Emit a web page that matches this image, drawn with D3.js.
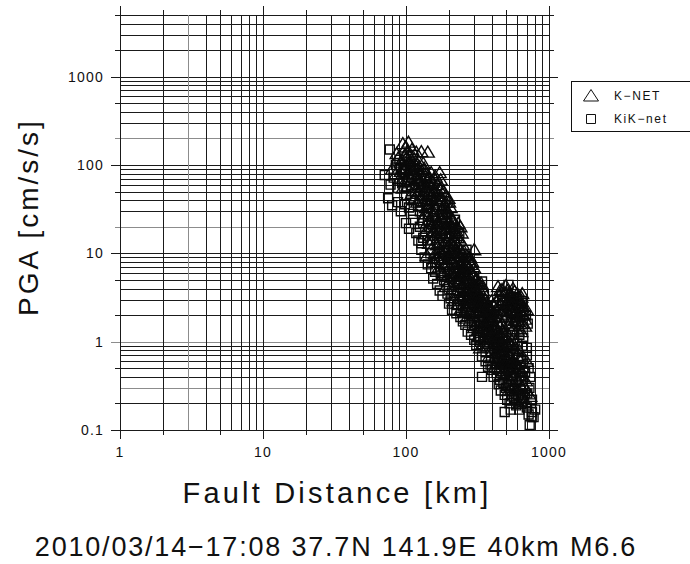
<!DOCTYPE html>
<html>
<head>
<meta charset="utf-8">
<script src="https://cdn.jsdelivr.net/npm/d3@7"></script>
<style>
  html, body { margin: 0; padding: 0; background: #fff; }
  svg { display: block; }
  text { font-family: "Liberation Sans", Arial, Helvetica, sans-serif; fill: #111; }
</style>
</head>
<body>
<svg id="chart" width="690" height="564"></svg>
<script>
// ---------------- data ----------------
const xDomain = [1, 1000];
const yDomain = [0.1, 5000];
const xTickLabels = ["1", "10", "100", "1000"];
const xTickValues = [1, 10, 100, 1000];
const yTickLabels = ["0.1", "1", "10", "100", "1000"];
const yTickValues = [0.1, 1, 10, 100, 1000];
const seriesNames = ["K\u2212NET", "KiK\u2212net"];
const xTitle = "Fault Distance [km]";
const yTitle = "PGA [cm/s/s]";
const caption = "2010/03/14\u221217:08 37.7N 141.9E 40km M6.6";
const grayHLines = [200, 20, 1, 0.3];
const grayVLines = [3];

// [fault distance km, PGA cm/s/s]
const knetPoints = [
  [95,175],[100,160],[104,182],[110,150],[118,140],[128,142],[98,130],[88,120],[106,125],[114,118],
  [92,108],[122,112],[132,105],[86,135],[102,140],[142,140],
  [100,120],[112,100],[120,90],[105,110],[96,90],[124,96],[134,92],
  [80,90],[85,80],[92,85],[100,92],[108,88],[115,80],[125,85],[135,78],[145,72],[160,75],
  [172,82],[175,68],[90,70],[98,65],[105,75],[112,60],[120,68],[130,62],[140,58],[150,55],
  [165,60],[95,55],[118,52],[128,56],[155,64],[142,66],[102,58],
  [108,95],[118,98],[126,75],[133,88],[150,82],[158,70],[138,52],[145,48],[152,46],[160,52],
  [172,54],[182,50],[115,42],[122,50],[130,40],[160,32],[172,40],[185,35],[198,42],[205,33],
  [116,72],[126,66],[135,60],[146,62],[155,50],[168,45],[178,55],[190,38],
  [110,48],[118,45],[125,42],[132,46],[140,40],[148,44],[155,38],[162,42],[170,36],[180,40],
  [190,45],[200,38],[128,35],[138,33],[150,30],[158,34],[168,28],[178,32],[188,30],[120,38],
  [145,36],[165,48],[175,45],[195,30],[135,28],
  [176,26],[186,26],[200,28],[210,25],[155,27],[145,24],[165,22],[215,19],[228,20],[245,17],
  [130,24],[140,22],[150,20],[160,23],[172,21],[185,19],[198,22],[210,20],[225,18],[138,18],
  [148,16],[158,18],[168,15],[178,17],[190,14],[205,16],[218,14],[230,15],[145,13],[165,12.5],
  [185,13],[200,12],[215,12],[240,20],[155,14.5],[175,19],[195,17],[212,23],[180,24],
  [162,20],[170,18],[182,22],[192,19],[205,21],[220,21],[195,15],[210,17],[225,16],[240,14],
  [160,16],[150,23],[175,13.5],[232,22],[250,12.5],[230,12.5],[208,13.5],
  [150,11],[160,10],[172,11.5],[185,10.5],[198,9.5],[210,11],[225,10],[240,9],[255,10.5],[165,9],
  [178,8.5],[192,8],[205,8.8],[218,7.8],[232,8.2],[248,7.5],[262,8],[170,7],[185,7.2],[200,6.8],
  [215,6.5],[228,7],[245,6.2],[260,6.6],[275,7],[155,8],[140,9.5],[235,11.5],[280,9],[300,11],
  [175,10],[190,11],[205,10],[220,9],[235,9.5],[250,8.5],[268,9.5],[195,7.5],[212,8],[240,7],
  [255,6.8],[270,6],[285,7.5],[225,11],
  [180,9.5],[200,9],[215,10.5],[245,10],[258,9],[275,8.5],[290,8],[222,6],[235,5.7],[250,6.5],
  [265,7.2],[285,6.3],[300,6.8],
  [180,5.8],[195,5.5],[210,5.9],[225,5.2],[240,5.6],[255,5],[270,5.4],[290,5.8],[310,5.2],[200,4.8],
  [215,4.5],[230,4.7],[245,4.2],[260,4.6],[280,4.4],[300,4.1],[320,4.5],[210,3.9],[225,3.6],[240,3.8],
  [255,3.4],[270,3.7],[290,3.3],[310,3.6],[330,3.2],[345,3.8],[235,3.1],[265,3.0],[285,3.05],[190,4.2],
  [220,5.5],[235,4.9],[250,5.8],[265,5.2],[280,4.9],[295,4.6],[250,4.4],[270,4.0],[290,3.9],[310,4.0],
  [325,3.9],[300,3.5],[280,3.4],[320,3.4],[340,4.2],
  [305,4.8],[315,4.4],[335,4.6],[260,3.9],[275,3.2],[295,3.0],[310,3.15],[340,3.0],[355,3.1],
  [440,4.2],[470,3.9],[500,4.3],[530,3.6],[560,4.0],[600,3.5],[640,3.2],[450,3.3],[480,3.0],[510,3.2],
  [545,2.9],[580,2.7],[620,2.8],[660,2.5],[460,2.6],[490,2.4],[525,2.5],[555,2.2],[590,2.1],[630,2.2],
  [665,2.0],[470,2.0],[505,1.9],[540,1.8],[575,1.75],[610,1.7],[650,1.6],[520,1.5],[560,1.4],[600,1.35],
  [640,1.3],[680,1.8],[700,2.3],[430,2.8],
  [455,3.8],[490,3.5],[520,2.9],[555,3.0],[590,3.0],[625,2.5],[650,2.1],[500,2.7],[535,2.3],[570,2.5],
  [600,1.9],[630,1.6],[680,1.5],[470,1.6],
  [510,3.8],[545,3.4],[575,3.7],[615,3.1],[650,3.5],[525,2.7],[560,2.6],[600,2.5],[640,2.7],[510,2.2],
  [545,2.5],[585,2.3],[620,2.0],[660,2.3],
  [215,2.9],[230,2.7],[245,2.95],[260,2.6],[275,2.8],[290,2.5],[310,2.7],[330,2.45],[350,2.8],[370,2.6],
  [390,2.4],[240,2.3],[255,2.2],[270,2.35],[285,2.1],[300,2.2],[320,2.0],[340,2.15],[360,2.0],[380,1.9],
  [400,2.1],[265,1.85],[280,1.75],[295,1.9],[315,1.7],[335,1.8],[355,1.65],[375,1.55],[400,1.7],[420,1.9],
  [305,2.95],[325,2.85],[345,2.5],[365,2.3],[385,2.2],[405,2.6],[425,2.3],[315,2.3],[350,1.9],[390,1.75],
  [410,1.55],[435,1.7],
  [365,2.75],[380,2.5],[395,2.9],[330,2.6],[355,2.3],[375,2.05],[395,1.95],[420,2.1],[440,1.9],[455,1.5],
  [300,1.45],[320,1.35],[340,1.4],[360,1.3],[380,1.35],[400,1.25],[420,1.4],[440,1.3],[460,1.2],[320,1.15],
  [345,1.1],[370,1.05],[395,1.12],[415,1.0],[435,1.08],[480,1.1],[500,1.0],[350,0.95],[375,0.9],[400,0.85],
  [425,0.92],[450,0.88],[475,0.82],[510,0.9],[540,0.95],[580,0.85],[620,0.8],[330,0.85],
  [365,1.2],[385,1.1],[410,1.15],[430,0.98],[455,1.05],[470,0.95],[495,0.85],[520,1.2],[545,1.05],[490,1.3],
  [450,0.75],[530,0.7],
  [430,1.45],[405,1.4],[385,1.25],[360,1.5],[445,1.15],[470,1.3],[495,1.15],[520,1.0],[555,0.9],
  [380,0.68],[410,0.62],[440,0.65],[470,0.6],[500,0.66],[530,0.58],[560,0.62],[600,0.55],[420,0.52],[450,0.5],
  [480,0.47],[510,0.52],[545,0.48],[580,0.45],[620,0.5],[660,0.52],[700,0.6],[460,0.42],[495,0.4],[530,0.38],
  [570,0.41],[610,0.37],[650,0.4],[690,0.36],[520,0.33],[560,0.32],[640,0.31],
  [430,0.58],[455,0.57],[490,0.55],[515,0.6],[500,0.45],[540,0.42],[585,0.55],[625,0.42],[670,0.32],[600,0.3],
  [480,0.7],[510,0.75],[560,0.8],[600,0.7],[650,0.65],[470,0.52],[520,0.5],[550,0.55],[600,0.45],[640,0.47],
  [520,0.28],[560,0.26],[600,0.27],[650,0.25],[700,0.28],[580,0.22],[620,0.2],[680,0.21],[740,0.24]
];

const kiknetPoints = [
  [90,115],[96,100],[108,104],[85,100],[112,130],[77,150],[71,77],
  [78,60],[82,72],[88,55],[94,62],[104,68],[110,72],[122,60],[138,70],[148,60],[115,55],[98,80],
  [100,88],[92,92],[112,82],[135,50],[150,40],[165,35],[178,28],[195,25],[125,45],[140,36],
  [75,42],[80,35],[88,38],[92,30],[100,45],[105,33],[112,28],[125,30],[142,26],[160,25],[182,27],
  [108,40],[98,36],
  [100,22],[105,19],[112,24],[118,17],[125,20],[132,15],[128,13],[142,14],[170,13],[190,22],[220,24],
  [236,17],[122,14],[205,19],[180,15],[132,22],[150,17],[165,17],
  [128,11],[135,9],[142,7.5],[150,6.8],[160,6.2],[175,6],[195,6.1],[210,7.5],[230,6],[250,9],[265,11],
  [148,10],[200,10],[220,13],[240,10],[215,6],[260,5.8],[185,11],[160,8],[170,8.5],
  [155,5.2],[165,4.5],[172,3.8],[180,3.3],[195,3.5],[205,3.1],[250,3.2],[280,3.1],[300,5.5],[320,3.0],
  [340,4.8],[350,3.5],[240,4.5],[270,3.5],[295,2.9],[185,5],[200,4.2],[215,3.3],
  [490,3.6],[520,4.4],[570,3.2],[610,2.4],[650,2.9],[480,2.2],[540,2.1],[590,1.6],[630,1.9],[690,2.0],
  [710,1.6],[500,1.6],[550,1.2],[660,1.1],[620,1.2],[580,1.9],[540,3.0],[470,2.9],
  [200,2.7],[210,2.3],[225,2.1],[240,1.9],[250,1.7],[260,1.55],[290,1.55],[330,1.5],[365,1.45],[410,2.5],
  [330,2.2],[350,1.7],[380,1.5],[228,2.6],[250,2.5],[265,2.1],[300,1.65],
  [270,1.3],[285,1.2],[300,1.05],[310,0.92],[330,1.0],[360,0.78],[390,0.75],[430,0.72],[470,0.75],[520,0.78],
  [560,0.72],[600,0.95],[650,0.9],[700,0.85],[400,1.3],[420,1.1],[450,1.0],[480,0.9],
  [320,1.25],[345,1.3],[370,0.95],[410,0.95],[440,0.85],
  [340,0.68],[360,0.6],[390,0.55],[400,0.48],[430,0.44],[455,0.37],[480,0.34],[500,0.3],[590,0.35],[680,0.45],
  [720,0.5],[740,0.4],[540,0.56],[340,0.4],[510,0.62],[560,0.5],[610,0.65],[640,0.6],[700,0.7],
  [470,0.6],[420,0.65],[375,0.52],[410,0.4],[445,0.33],
  [460,0.28],[490,0.25],[510,0.22],[530,0.2],[550,0.24],[590,0.19],[620,0.17],[660,0.23],[700,0.18],[720,0.15],
  [750,0.2],[760,0.16],[780,0.14],[800,0.17],[540,0.17],[680,0.26],[500,0.3],[490,0.16],[757,0.14],[733,0.114],
  [630,0.28],[570,0.28],[530,0.3],[570,0.23],[610,0.25],[640,0.2],[705,0.26],[730,0.3],[760,0.22]
];

// ---------------- drawing ----------------
const svg = d3.select("#chart");
const x = d3.scaleLog().domain(xDomain).range([120, 549]);
const y = d3.scaleLog().domain(yDomain).range([430, 15]);

function gridValues(lo, hi) {
  const vals = [];
  for (let e = Math.floor(Math.log10(lo)); e <= Math.ceil(Math.log10(hi)); e++) {
    for (let m = 1; m <= 9; m++) {
      const v = +(m * Math.pow(10, e)).toPrecision(6);
      if (v >= lo * 0.9999 && v <= hi * 1.0001) vals.push(v);
    }
  }
  return vals;
}
function mant(v) { return Math.round(v / Math.pow(10, Math.floor(Math.log10(v) + 1e-9))); }
function tickLen(v) { const m = mant(v); return m === 1 ? 9 : (m === 2 || m === 5 ? 5 : 0); }
const snap = p => Math.round(p) + 0.5;
const isIn = (arr, v) => arr.some(a => Math.abs(a - v) / v < 1e-6);

const grid = svg.append("g").attr("shape-rendering", "crispEdges");
grid.selectAll("line.h").data(gridValues(yDomain[0], yDomain[1])).join("line")
  .attr("class", "h")
  .attr("x1", d => x(xDomain[0]) - tickLen(d))
  .attr("x2", d => x(xDomain[1]) + tickLen(d))
  .attr("y1", d => snap(y(d))).attr("y2", d => snap(y(d)))
  .attr("stroke", d => isIn(grayHLines, d) ? "#8c8c8c" : "#1a1a1a")
  .attr("stroke-width", 1);
grid.selectAll("line.v").data(gridValues(xDomain[0], xDomain[1])).join("line")
  .attr("class", "v")
  .attr("y1", d => y(yDomain[1]) - tickLen(d))
  .attr("y2", d => y(yDomain[0]) + tickLen(d))
  .attr("x1", d => snap(x(d))).attr("x2", d => snap(x(d)))
  .attr("stroke", d => isIn(grayVLines, d) ? "#8c8c8c" : "#1a1a1a")
  .attr("stroke-width", 1);

// tick labels
svg.append("g").selectAll("text").data(yTickValues).join("text")
  .attr("x", 104).attr("y", d => y(d)).attr("dy", "0.36em")
  .attr("text-anchor", "end").attr("font-size", 14).attr("letter-spacing", 1.2)
  .text((d, i) => yTickLabels[i]);
svg.append("g").selectAll("text").data(xTickValues).join("text")
  .attr("x", d => x(d)).attr("y", 457)
  .attr("text-anchor", "middle").attr("font-size", 14).attr("letter-spacing", 1.2)
  .text((d, i) => xTickLabels[i]);

// titles
svg.append("text").attr("x", 337).attr("y", 503).attr("text-anchor", "middle")
  .attr("font-size", 29).attr("letter-spacing", 3.2).text(xTitle);
svg.append("text").attr("transform", "translate(38,217) rotate(-90)").attr("text-anchor", "middle")
  .attr("font-size", 28).attr("letter-spacing", 3.0).text(yTitle);
svg.append("text").attr("x", 336).attr("y", 556).attr("text-anchor", "middle")
  .attr("font-size", 27).attr("letter-spacing", 1.8).text(caption);

// symbols
const triPath = "M0,-6L6.5,5L-6.5,5Z";
const sqPath = "M-4.5,-4.5H4.5V4.5H-4.5Z";
const pts = svg.append("g").attr("fill", "none").attr("stroke", "#0a0a0a").attr("stroke-width", 1.4);
pts.selectAll("path.sq").data(kiknetPoints).join("path")
  .attr("class", "sq")
  .attr("transform", d => `translate(${x(d[0])},${y(d[1])})`)
  .attr("d", sqPath);
pts.selectAll("path.tri").data(knetPoints).join("path")
  .attr("class", "tri")
  .attr("transform", d => `translate(${x(d[0])},${y(d[1])})`)
  .attr("d", triPath);

// legend
const lg = svg.append("g");
lg.append("rect").attr("x", 571.5).attr("y", 81.5).attr("width", 130).attr("height", 50)
  .attr("fill", "#fff").attr("stroke", "#111").attr("stroke-width", 1);
lg.append("path").attr("transform", "translate(591,96)").attr("d", "M0,-6.5L7.5,5L-7.5,5Z")
  .attr("fill", "none").attr("stroke", "#111");
lg.append("path").attr("transform", "translate(591,119)").attr("d", sqPath)
  .attr("fill", "none").attr("stroke", "#111");
lg.append("text").attr("x", 614).attr("y", 100).attr("font-size", 12).attr("letter-spacing", 1.6).text(seriesNames[0]);
lg.append("text").attr("x", 614).attr("y", 123).attr("font-size", 12).attr("letter-spacing", 1.6).text(seriesNames[1]);
</script>
</body>
</html>
